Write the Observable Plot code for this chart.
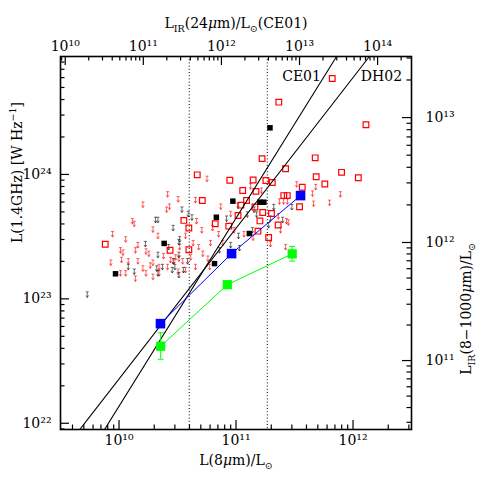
<!DOCTYPE html>
<html><head><meta charset="utf-8">
<script src="https://cdn.jsdelivr.net/npm/d3@7"></script>
<script src="https://cdn.jsdelivr.net/npm/@observablehq/plot@0.6"></script>
<style>body{margin:0;background:#fff}svg{display:block}</style>
</head><body><div id="chart"></div>
<script>
// ---------- data ----------
const xDomain = [3.16e9, 3.16e12];   // L(8um)/Lsun
const yDomain = [8.91e21, 8.87e24];  // L(1.4GHz) W/Hz

const xMajor = [1e10, 1e11, 1e12];
const yMajor = [1e22, 1e23, 1e24];
const topMajor = [1e10, 1e11, 1e12, 1e13, 1e14];
const rightMajor = [1e11, 1e12, 1e13];

// top axis: log L8 = 9.5 + 0.6675 (log LIR24 - 9.94)
const topLog0 = 9.94, topSlope = 0.6675, bottomLog0 = 9.5;
// right axis anchors: log LIR(8-1000) -> log L1.4
const irAnchorLog = [11, 12, 13];
const radioAnchorLog = [22.504, 23.453, 24.457];

const blueX = [2.26e10, 9.16e10, 3.56e11];
const blueY = [6.32e22, 2.31e23, 6.76e23];

const greenX = [2.27e10, 8.42e10, 3.02e11];
const greenY = [4.16e22, 1.30e23, 2.30e23];
const greenLo = [3.27e22, 1.22e23, 2.01e23];
const greenHi = [5.33e22, 1.38e23, 2.64e23];

const blackX = [9.33e9, 2.43e10, 6.79e10, 9.40e10, 1.60e11, 1.73e11, 1.30e11, 6.55e10, 1.95e11];
const blackY = [1.59e23, 2.79e23, 4.53e23, 6.10e23, 5.98e23, 5.98e23, 3.35e23, 1.92e23, 2.37e24];

const redSqX = [6.64e11, 2.32e11, 1.29e12, 1.67e11, 4.75e11, 2.65e11, 4.66e10, 8.85e10, 1.40e11, 1.80e11,
  2.04e11, 4.84e11, 7.98e11, 1.11e12, 5.74e11, 1.14e11, 1.48e11, 3.68e11, 2.56e11, 2.74e11,
  3.49e11, 5.15e10, 1.23e11, 1.10e11, 1.45e11, 1.69e11, 1.04e11, 2.01e11, 2.29e11, 1.60e11,
  3.58e10, 3.95e10, 6.64e10, 8.67e10, 1.54e11, 1.90e11, 7.62e9, 2.73e10, 3.95e10];
const redSqY = [5.90e24, 3.81e24, 2.51e24, 1.34e24, 1.36e24, 1.11e24, 9.93e23, 8.98e23, 9.02e23, 8.93e23,
  8.61e23, 9.57e23, 1.04e24, 9.40e23, 8.38e23, 7.43e23, 7.31e23, 7.89e23, 6.76e23, 6.76e23,
  5.50e23, 6.17e23, 6.17e23, 5.66e23, 5.47e23, 4.94e23, 4.68e23, 4.85e23, 3.92e23, 4.23e23,
  4.27e23, 3.71e23, 4.01e23, 3.84e23, 3.50e23, 3.11e23, 2.75e23, 2.46e23, 2.48e23];

const redLimX = [2.6e10, 1.6e10, 2.7e10, 2.55e10, 3.2e10, 1.3e10, 1.35e10, 8.8e9, 1.95e10, 2.15e10,
  1.14e10, 1.45e10, 1.03e10, 1.08e10, 1.38e10, 1.7e10, 1.8e10, 2.4e10, 1.05e10, 1.2e10,
  1.45e10, 8.5e9, 1.95e10, 2.75e10, 2.95e10, 1.85e10, 2.2e10, 1.6e10, 2.6e10, 1.14e10,
  1.03e10, 1.7e10, 1.95e10, 2.2e10, 1.38e10, 3.25e10, 5.65e10, 4.5e10, 7.4e10, 4.6e10,
  6.3e10, 5.1e10, 4.3e10, 3.7e10, 3.3e10, 4.8e10, 3.05e10, 4.1e10, 3.5e10, 5.2e10,
  5.75e10, 5.95e10, 4.5e10, 3.7e10, 3.2e10, 9.6e10, 1.17e11, 1.4e11, 2.3e11, 7.7e10,
  7.1e10, 6.05e10, 2.4e11, 1.97e11, 1.33e11, 3.3e11, 4.8e11, 4.5e11, 7.8e11, 4.6e11,
  6.3e11, 2.35e11, 2.55e11, 2.75e11, 2.7e11, 2.8e11, 2.65e11, 1.65e11, 9.0e10];
const redLimY = [6.9e23, 5.7e23, 5.5e23, 5.2e23, 6.3e23, 4.2e23, 4.0e23, 3.3e23, 3.6e23, 3.2e23,
  3.0e23, 2.7e23, 2.45e23, 2.35e23, 2.45e23, 2.4e23, 2.3e23, 2.2e23, 2.05e23, 2.0e23,
  2.0e23, 1.95e23, 1.95e23, 2.05e23, 2.0e23, 1.85e23, 1.8e23, 1.75e23, 1.8e23, 1.6e23,
  1.6e23, 1.6e23, 1.5e23, 1.6e23, 1.45e23, 2.1e23, 9.2e23, 6.2e23, 5.5e23, 4.2e23,
  3.7e23, 3.55e23, 2.8e23, 3.2e23, 2.6e23, 2.6e23, 2.15e23, 2.15e23, 2.0e23, 2.3e23,
  2.1e23, 1.8e23, 1.8e23, 1.7e23, 1.65e23, 3.55e23, 3.3e23, 3.1e23, 4.6e23, 2.8e23,
  3.3e23, 2.8e23, 3.55e23, 2.75e23, 8.0e23, 8.3e23, 7.9e23, 7.0e23, 6.9e23, 5.8e23,
  5.9e23, 6.05e23, 6.05e23, 6.05e23, 4.2e23, 4.1e23, 2.6e23, 7.4e23, 4.8e23];

const blackLimX = [5.35e9, 2.05e10, 2.15e10, 1.68e10, 3.3e10, 3.25e10, 2.15e10, 2.65e10, 1.2e10, 1.35e10,
  2.1e10, 2.35e10, 2.85e10, 3.0e10, 3.25e10, 2.15e10, 3.45e10, 3.9e10, 4.2e10, 8.3e10,
  1.04e11, 2.9e10, 3.25e10, 2.9e10, 3.85e10, 3.55e10, 7.2e10, 9.0e10, 1.07e11, 1.05e11,
  1.38e11, 1.25e11, 1.5e11, 1.97e11, 2.1e11, 1.43e11, 3.0e11, 1.9e11, 2.5e11];
const blackLimY = [1.08e23, 4.3e23, 4.3e23, 2.75e23, 3.0e23, 2.85e23, 2.25e23, 2.6e23, 1.8e23, 1.65e23,
  1.75e23, 1.8e23, 1.7e23, 1.8e23, 1.55e23, 1.6e23, 5.2e23, 4.8e23, 4.5e23, 4.4e23,
  5.6e23, 3.7e23, 2.25e23, 2.0e23, 2.0e23, 1.7e23, 2.45e23, 2.7e23, 2.55e23, 3.2e23,
  3.55e23, 4.75e23, 4.75e23, 4.4e23, 5.45e23, 5.2e23, 5.45e23, 3.9e23, 4.3e23];

const relNames = ["CE01", "DH02"];
const relX = [[7.52e9, 7.23e11], [4.62e9, 1.38e12]];
const relY = [[8.91e21, 8.87e24], [8.91e21, 8.87e24]];
const relLabelX = [3.63e11, 1.75e12];
const relLabelY = [6.1e24, 6.1e24];

const dottedX = [3.98e10, 1.85e11];

// ---------- helpers ----------
const W = 480, H = 480, mL = 60, mR = 69, mT = 56, mB = 51;
const fw = W - mL - mR, fh = H - mT - mB;
const supDigits = {"0":"⁰","1":"¹","2":"²","3":"³","4":"⁴","5":"⁵","6":"⁶","7":"⁷","8":"⁸","9":"⁹","-":"⁻"};
const pow10 = d => "10" + String(Math.round(Math.log10(d))).split("").map(c => supDigits[c]).join("");
const toL8 = v => 10 ** (bottomLog0 + (Math.log10(v) - topLog0) * topSlope);
function irToRadio(v) {
  const l = Math.log10(v);
  const i = l < irAnchorLog[1] ? 0 : 1;
  const t = (l - irAnchorLog[i]) / (irAnchorLog[i + 1] - irAnchorLog[i]);
  return 10 ** (radioAnchorLog[i] + t * (radioAnchorLog[i + 1] - radioAnchorLog[i]));
}
function minors(e0, e1, inside) {
  const out = [];
  for (let e = e0; e <= e1; e++) for (let k = 2; k <= 9; k++) { const v = k * 10 ** e; if (inside(v)) out.push(v); }
  return out;
}
const inX = v => v >= xDomain[0] && v <= xDomain[1];
const inY = v => v >= yDomain[0] && v <= yDomain[1];
const xMinor = minors(9, 12, inX);
const yMinor = minors(21, 24, inY);
const topMinor = minors(9, 14, v => inX(toL8(v)));
const rightMinor = minors(10, 13, v => inY(irToRadio(v)));

const arrowSym = {draw(ctx, size) {
  const r = Math.sqrt(size / Math.PI);
  ctx.moveTo(-r * 0.55, -r); ctx.lineTo(r * 0.55, -r);
  ctx.moveTo(0, -r); ctx.lineTo(0, r);
  ctx.moveTo(-r * 0.5, r * 0.25); ctx.lineTo(0, r); ctx.lineTo(r * 0.5, r * 0.25);
}};
const capSym = {draw(ctx, size) { const r = Math.sqrt(size / Math.PI); ctx.moveTo(-r, 0); ctx.lineTo(r, 0); }};

const idx = a => d3.range(a.length);
const font = "DejaVu Serif";
const green = "#00ff00", blue = "#0000ff";

const TITLE_TOP = "LIR(24μm)/L⊙(CE01)";
const TITLE_BOTTOM = "L(8μm)/L⊙";
const TITLE_LEFT = "L(1.4GHz) [W Hz−1]";
const TITLE_RIGHT = "LIR(8−1000μm)/L⊙";

const plot = Plot.plot({
  width: W, height: H,
  marginLeft: mL, marginRight: mR, marginTop: mT, marginBottom: mB,
  style: {fontFamily: font, fontSize: "14px", background: "white"},
  x: {type: "log", domain: xDomain, axis: null},
  y: {type: "log", domain: yDomain, axis: null},
  marks: [
    Plot.ruleX(dottedX, {x: d => d, stroke: "black", strokeWidth: 1, strokeDasharray: "1,2.2"}),
    Plot.dot(idx(redLimX), {x: i => redLimX[i], y: i => redLimY[i], symbol: arrowSym, r: 2.8, fill: "none", stroke: "#ff0000", strokeWidth: 0.8, strokeOpacity: 0.75}),
    Plot.dot(idx(blackLimX), {x: i => blackLimX[i], y: i => blackLimY[i], symbol: arrowSym, r: 2.8, fill: "none", stroke: "black", strokeWidth: 0.8, strokeOpacity: 0.7}),
    Plot.dot(idx(redSqX), {x: i => redSqX[i], y: i => redSqY[i], symbol: "square", r: 3.2, fill: "none", stroke: "#ff0000", strokeWidth: 1.2}),
    Plot.dot(idx(blackX), {x: i => blackX[i], y: i => blackY[i], symbol: "square", r: 3.1, fill: "black", stroke: "none"}),
    ...relNames.map((n, j) => Plot.line([0, 1], {x: i => relX[j][i], y: i => relY[j][i], stroke: "black", strokeWidth: 1.1, clip: true})),
    Plot.text(relNames, {x: (d, i) => relLabelX[i], y: (d, i) => relLabelY[i], text: d => d, fontSize: 14, fill: "black"}),
    Plot.line(idx(blueX), {x: i => blueX[i], y: i => blueY[i], stroke: blue, strokeWidth: 1}),
    Plot.dot(idx(blueX), {x: i => blueX[i], y: i => blueY[i], symbol: "square", r: 5.4, fill: blue}),
    Plot.line(idx(greenX), {x: i => greenX[i], y: i => greenY[i], stroke: green, strokeWidth: 1}),
    Plot.ruleX(idx(greenX), {x: i => greenX[i], y1: i => greenLo[i], y2: i => greenHi[i], stroke: green, strokeWidth: 1}),
    Plot.dot(idx(greenX), {x: i => greenX[i], y: i => greenLo[i], symbol: capSym, r: 3, stroke: green, strokeWidth: 1}),
    Plot.dot(idx(greenX), {x: i => greenX[i], y: i => greenHi[i], symbol: capSym, r: 3, stroke: green, strokeWidth: 1}),
    Plot.dot(idx(greenX), {x: i => greenX[i], y: i => greenY[i], symbol: "square", r: 5.2, fill: green}),
    Plot.frame({stroke: "black", strokeWidth: 1.6}),
    // bottom ticks
    Plot.tickX(xMajor, {x: d => d, insetTop: fh - 9, stroke: "black", strokeWidth: 1.2}),
    Plot.tickX(xMinor, {x: d => d, insetTop: fh - 4.5, stroke: "black", strokeWidth: 1.2}),
    // left ticks
    Plot.tickY(yMajor, {y: d => d, insetRight: fw - 9, stroke: "black", strokeWidth: 1.2}),
    Plot.tickY(yMinor, {y: d => d, insetRight: fw - 4.5, stroke: "black", strokeWidth: 1.2}),
    // top ticks
    Plot.tickX(topMajor, {x: d => toL8(d), insetBottom: fh - 9, stroke: "black", strokeWidth: 1.2}),
    Plot.tickX(topMinor, {x: d => toL8(d), insetBottom: fh - 4.5, stroke: "black", strokeWidth: 1.2}),
    // right ticks
    Plot.tickY(rightMajor, {y: d => irToRadio(d), insetLeft: fw - 9, stroke: "black", strokeWidth: 1.2}),
    Plot.tickY(rightMinor, {y: d => irToRadio(d), insetLeft: fw - 4.5, stroke: "black", strokeWidth: 1.2}),
    // tick labels
    Plot.text(xMajor, {x: d => d, frameAnchor: "bottom", dy: 15, text: pow10, fontSize: 14}),
    Plot.text(yMajor, {y: d => d, frameAnchor: "left", dx: -9, textAnchor: "end", text: pow10, fontSize: 14}),
    Plot.text(topMajor, {x: d => toL8(d), frameAnchor: "top", dy: -15, text: pow10, fontSize: 14}),
    Plot.text(rightMajor, {y: d => irToRadio(d), frameAnchor: "right", dx: 14, textAnchor: "start", text: pow10, fontSize: 14}),
    // axis titles
    Plot.text([TITLE_TOP], {frameAnchor: "top", dy: -38, text: d => d, fontSize: 14}),
    Plot.text([TITLE_BOTTOM], {frameAnchor: "bottom", dy: 35, text: d => d, fontSize: 14}),
    Plot.text([TITLE_LEFT], {frameAnchor: "left", dx: -43, rotate: -90, text: d => d, fontSize: 14}),
    Plot.text([TITLE_RIGHT], {frameAnchor: "right", dx: 55, rotate: -90, text: d => d, fontSize: 14})
  ]
});

// rich formatting of axis titles (sub/superscripts, italic mu)
function rich(svg, plain, segs) {
  d3.select(svg).selectAll("text").filter(function() { return this.textContent === plain; }).each(function() {
    const t = d3.select(this);
    t.text(null);
    let shift = 0;
    for (const [s, kind] of segs) {
      const target = kind === "sub" ? 4 : kind === "sup" ? -6 : 0;
      const ts = t.append("tspan").text(s).attr("dy", target - shift);
      shift = target;
      if (kind === "sub" || kind === "sup") ts.attr("font-size", 9.5);
      if (kind === "it") ts.attr("font-style", "italic");
    }
  });
}
rich(plot, TITLE_TOP, [["L"], ["IR", "sub"], ["(24"], ["μ", "it"], ["m)/L"], ["⊙", "sub"], ["(CE01)"]]);
rich(plot, TITLE_BOTTOM, [["L(8"], ["μ", "it"], ["m)/L"], ["⊙", "sub"]]);
rich(plot, TITLE_LEFT, [["L(1.4GHz) [W Hz"], ["−1", "sup"], ["]"]]);
rich(plot, TITLE_RIGHT, [["L"], ["IR", "sub"], ["(8−1000"], ["μ", "it"], ["m)/L"], ["⊙", "sub"]]);

document.getElementById("chart").append(plot);
</script></body></html>
